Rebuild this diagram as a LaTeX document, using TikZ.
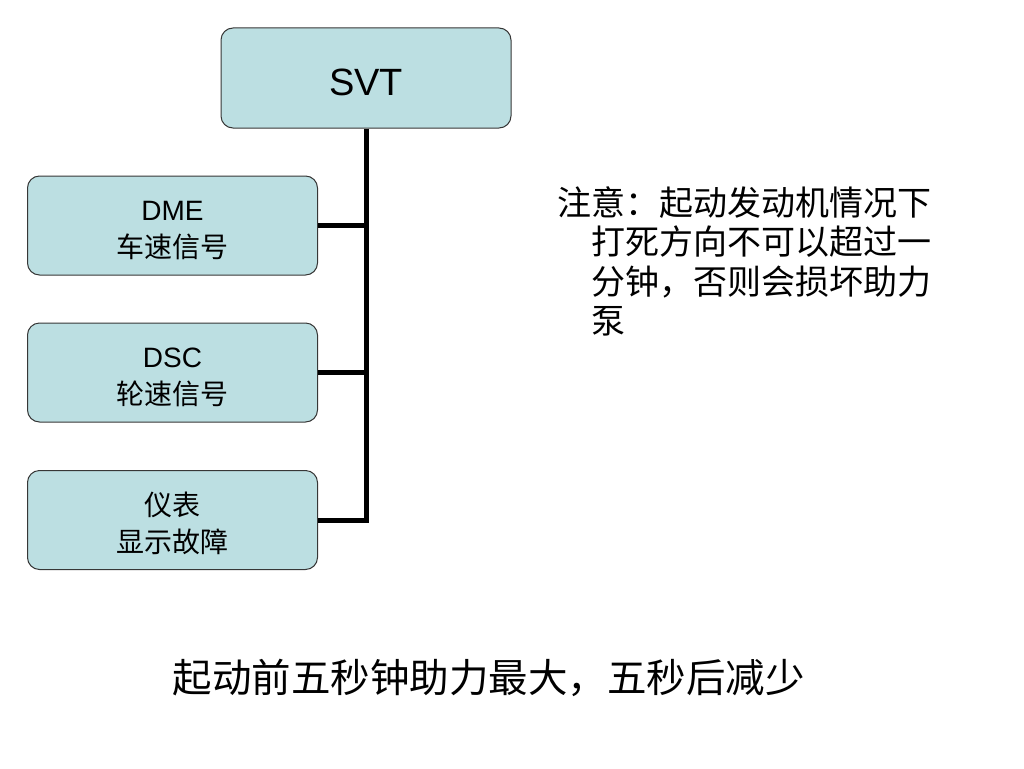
\documentclass[tikz,border=0pt]{standalone}
\usepackage{fontspec}
\setmainfont{Liberation Sans}
\newfontfamily\cjk{Noto Sans CJK SC}
\definecolor{boxfill}{RGB}{188,223,226}
\definecolor{boxline}{RGB}{55,55,55}
\newcommand{\topstrut}{\rule{0pt}{30pt}}
\begin{document}
\begin{tikzpicture}[x=1pt,y=-1pt,
  box/.style={draw=boxline, line width=1pt, fill=boxfill, rounded corners=12pt,
    minimum width=290pt, minimum height=99pt, inner sep=0pt, align=center,
    font=\fontsize{28}{37}\selectfont},
  conn/.style={line width=5pt, draw=black, line join=miter}]
\useasboundingbox (0,0) rectangle (1024,768);
\node[box, minimum height=100pt, font=\fontsize{38}{44}\selectfont] (svt) at (366,78) {\rule{0pt}{36pt}SVT};
\node[box] (dme) at (172.5,225.5) {\topstrut DME\\{\cjk 车速信号}};
\node[box] (dsc) at (172.5,372.5) {\topstrut DSC\\{\cjk 轮速信号}};
\node[box] (ib) at (172.5,520) {\topstrut{\cjk 仪表}\\{\cjk 显示故障}};
\draw[conn] (svt.south) -- (svt.south |- ib.east) -- (ib.east);
\draw[conn] (dme.east) -- (dme.east -| svt.south);
\draw[conn] (dsc.east) -- (dsc.east -| svt.south);
\node[anchor=north west, inner sep=0pt, align=left, font=\cjk\fontsize{34}{39.5}\selectfont] (note) at (557,186)
  {注意：起动发动机情况下\\\hspace*{1em}打死方向不可以超过一\\\hspace*{1em}分钟，否则会损坏助力\\\hspace*{1em}泵};
\node[inner sep=0pt, font=\cjk\fontsize{39.5}{44}\selectfont] (bottom) at (488.5,678) {起动前五秒钟助力最大，五秒后减少};
\end{tikzpicture}
\end{document}
